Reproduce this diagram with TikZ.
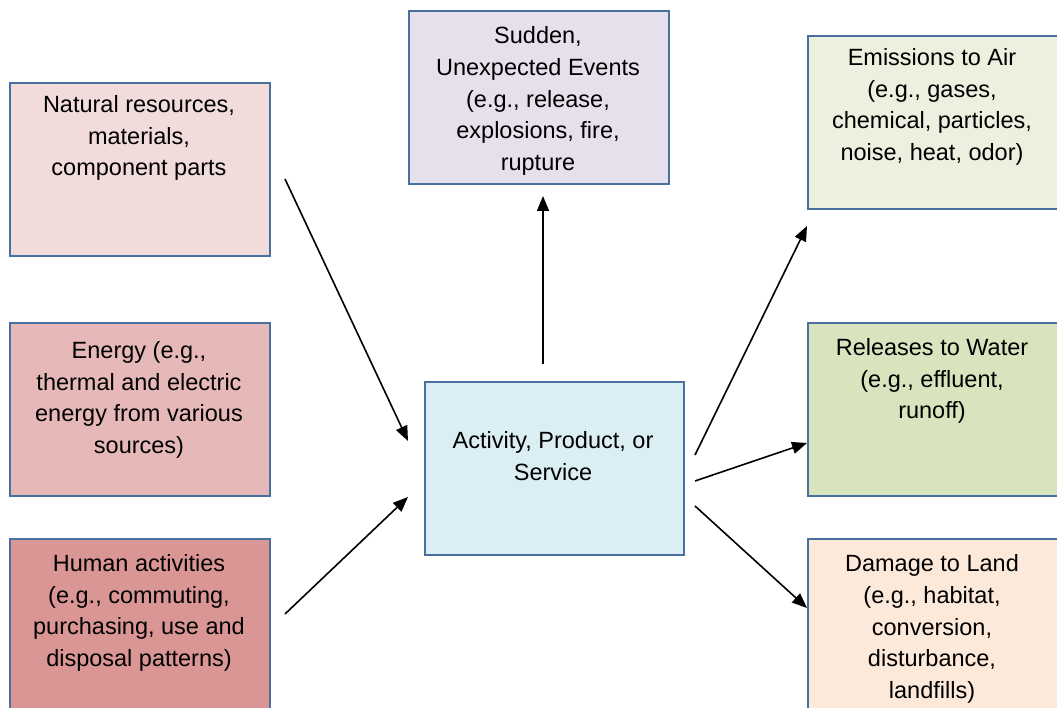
\documentclass[tikz,border=0pt]{standalone}
\usepackage{fontspec}
\setmainfont{Liberation Sans}
\usetikzlibrary{arrows.meta}

\definecolor{edgeblue}{HTML}{4A70A0}
\definecolor{fillnat}{HTML}{F2DCDB}
\definecolor{fillenergy}{HTML}{E6B9B8}
\definecolor{fillhuman}{HTML}{D99694}
\definecolor{fillsudden}{HTML}{E5E0EC}
\definecolor{fillact}{HTML}{DBEEF4}
\definecolor{fillair}{HTML}{EBF1DE}
\definecolor{fillwater}{HTML}{D7E4BD}
\definecolor{fillland}{HTML}{FDE9D9}

\tikzset{
  box/.style={draw=edgeblue, line width=1.8pt, rectangle, inner sep=0pt,
    anchor=north west, minimum width=260pt, minimum height=173pt},
  label text/.style={align=center, inner sep=0pt,
    font=\fontsize{23.5}{31.6}\selectfont},
  arr/.style={-{Triangle[length=15pt,width=12pt]}, line width=1.6pt, black},
}

\begin{document}
\begin{tikzpicture}[x=1pt,y=-1pt]
  \useasboundingbox (0,0) rectangle (1057,708);

  % input boxes
  \node[box, fill=fillnat]    (nat)    at (9,82)   {};
  \node[box, fill=fillenergy] (energy) at (9,322)  {};
  \node[box, fill=fillhuman, minimum height=200pt] (human) at (9,538) {};
  % central activity and sudden events
  \node[box, fill=fillsudden] (sudden) at (408,10)  {};
  \node[box, fill=fillact, minimum width=259pt] (act) at (424,381) {};
  % output boxes
  \node[box, fill=fillair]   (air)   at (807,35)  {};
  \node[box, fill=fillwater] (water) at (807,322) {};
  \node[box, fill=fillland, minimum height=200pt] (land) at (807,538) {};

  % texts
  \node[label text] (nat-t)    at (139,138) {Natural resources,\\materials,\\component parts};
  \node[label text] (energy-t) at (139,400) {Energy (e.g.,\\thermal and electric\\energy from various\\sources)};
  \node[label text] (human-t)  at (139,613) {Human activities\\(e.g., commuting,\\purchasing, use and\\disposal patterns)};
  \node[label text] (sudden-t) at (538,101) {Sudden,\\Unexpected Events\\(e.g., release,\\explosions, fire,\\rupture};
  \node[label text] (act-t)    at (553,456) {Activity, Product, or\\Service};
  \node[label text] (air-t)    at (932,107) {Emissions to Air\\(e.g., gases,\\chemical, particles,\\noise, heat, odor)};
  \node[label text] (water-t)  at (932,381) {Releases to Water\\(e.g., effluent,\\runoff)};
  \node[label text] (land-t)   at (932,629) {Damage to Land\\(e.g., habitat,\\conversion,\\disturbance,\\landfills)};

  % arrow end points
  \coordinate (in1s) at (285,179);
  \coordinate (in1e) at (408,441);
  \coordinate (in2s) at (285,614);
  \coordinate (in2e) at (408,497);
  \coordinate (ups)  at (543,364);
  \coordinate (upe)  at (543,196);
  \coordinate (o1s)  at (695,455);
  \coordinate (o1e)  at (807,226);
  \coordinate (o2s)  at (695,481);
  \coordinate (o2e)  at (807,443);
  \coordinate (o3s)  at (695,506);
  \coordinate (o3e)  at (807,608);

  \draw[arr] (in1s) -- (in1e);
  \draw[arr] (in2s) -- (in2e);
  \draw[arr] (ups)  -- (upe);
  \draw[arr] (o1s)  -- (o1e);
  \draw[arr] (o2s)  -- (o2e);
  \draw[arr] (o3s)  -- (o3e);
\end{tikzpicture}
\end{document}
